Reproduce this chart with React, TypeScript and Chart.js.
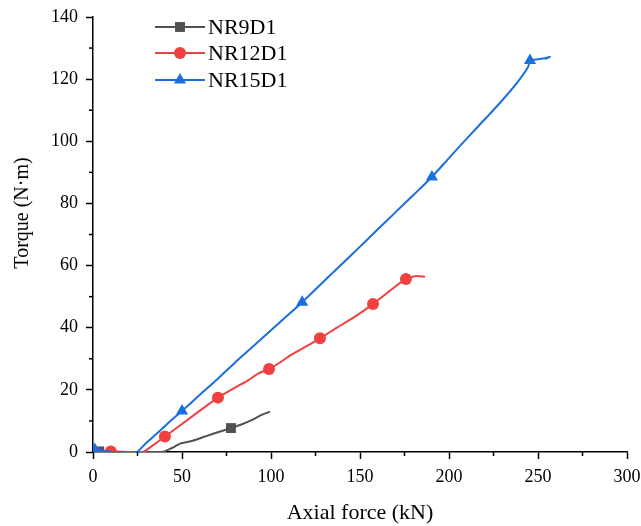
import React, { useEffect, useRef } from 'react';
import { Chart, registerables } from 'chart.js';

Chart.register(...registerables);

const seriesNames = ['NR9D1', 'NR12D1', 'NR15D1'];
const seriesColors = ['#515151', '#F14040', '#1A6FDF'];
const seriesMarkers = ['rect', 'circle', 'triangle'];

const forceNR9D1 = [0, 3.5, 20, 39, 44, 49, 56, 64, 71, 77.5, 84, 90, 95, 99.5];
const torqueNR9D1 = [0, 0.2, 0, 0, 1.2, 2.7, 3.6, 5.2, 6.5, 7.7, 9, 10.5, 12, 13];
const markerIdxNR9D1 = [1, 9];

const forceNR12D1 = [0, 10, 20, 28, 34, 40.4, 50, 60, 70.2, 80, 87, 93, 98.9, 105, 111, 118, 127.5, 137, 147, 157.3, 167, 175.8, 181, 186.5];
const torqueNR12D1 = [0, 0.2, 0, 0, 2.3, 5, 9, 13.3, 17.5, 20.8, 23, 25.3, 26.7, 28.8, 31.2, 33.4, 36.6, 40, 43.5, 47.6, 52, 55.7, 56.6, 56.4];
const markerIdxNR12D1 = [1, 5, 8, 12, 16, 19, 21];

const forceNR15D1 = [0, 1, 10, 24.5, 30, 37, 43, 50, 60, 70, 80, 90, 100, 110, 117.5, 130, 140, 150, 160, 170, 180, 190.4, 200.6, 211.8, 221.3, 228.7, 238.2, 244.4, 245.5, 249, 254.5, 256.7, 254];
const torqueNR15D1 = [0, 0.8, 0, 0, 3, 6.5, 9.7, 13.2, 18.4, 23.5, 28.9, 34, 39.2, 44.3, 48.2, 55.1, 60.6, 66.1, 71.7, 77.2, 82.7, 88.5, 95, 102, 107.8, 112.4, 118.8, 123.9, 126, 126.3, 126.8, 127.2, 126.5];
const markerIdxNR15D1 = [1, 7, 14, 21, 28];

const xTitle = 'Axial force (kN)';
const yTitle = 'Torque (N·m)';
const xMinorTicks = [25, 75, 125, 175, 225, 275];
const yMinorTicks = [10, 30, 50, 70, 90, 110, 130];

const FONT = '"Liberation Serif", "Times New Roman", serif';
const markerRadius = [7, 6, 7];

function toPoints(xs: number[], ys: number[]) {
  return xs.map((x, i) => ({ x, y: ys[i] }));
}

function drawMarker(ctx: CanvasRenderingContext2D, style: string, x: number, y: number, r: number, color: string) {
  ctx.fillStyle = color;
  ctx.beginPath();
  if (style === 'rect') {
    const s = r * Math.SQRT1_2;
    ctx.rect(x - s, y - s, 2 * s, 2 * s);
  } else if (style === 'circle') {
    ctx.arc(x, y, r, 0, Math.PI * 2);
  } else {
    let rad = 0;
    ctx.moveTo(x + Math.sin(rad) * r, y - Math.cos(rad) * r);
    rad += (2 * Math.PI) / 3;
    ctx.lineTo(x + Math.sin(rad) * r, y - Math.cos(rad) * r);
    rad += (2 * Math.PI) / 3;
    ctx.lineTo(x + Math.sin(rad) * r, y - Math.cos(rad) * r);
    ctx.closePath();
  }
  ctx.fill();
}

const overlayPlugin = {
  id: 'overlay',
  afterDraw(chart: any) {
    const { ctx, scales, chartArea } = chart;
    const x = scales.x;
    const y = scales.y;
    ctx.save();
    ctx.strokeStyle = '#000';
    ctx.lineWidth = 1.5;
    for (const v of xMinorTicks) {
      const px = x.getPixelForValue(v);
      ctx.beginPath();
      ctx.moveTo(px, chartArea.bottom);
      ctx.lineTo(px, chartArea.bottom + 4);
      ctx.stroke();
    }
    for (const v of yMinorTicks) {
      const py = y.getPixelForValue(v);
      ctx.beginPath();
      ctx.moveTo(chartArea.left, py);
      ctx.lineTo(chartArea.left - 4, py);
      ctx.stroke();
    }
    // axis titles
    ctx.fillStyle = '#000';
    ctx.textAlign = 'center';
    ctx.textBaseline = 'alphabetic';
    ctx.font = `22px ${FONT}`;
    ctx.fillText(xTitle, (chartArea.left + chartArea.right) / 2, chart.height - 7);
    ctx.save();
    ctx.translate(28, 213);
    ctx.rotate(-Math.PI / 2);
    ctx.font = `20px ${FONT}`;
    ctx.fillText(yTitle, 0, 0);
    ctx.restore();
    // legend
    const lx = chartArea.left + 62;
    const rows = [10, 36, 63];
    ctx.font = `22px ${FONT}`;
    ctx.textAlign = 'left';
    ctx.textBaseline = 'middle';
    seriesNames.forEach((name, i) => {
      const ly = chartArea.top + rows[i];
      ctx.strokeStyle = seriesColors[i];
      ctx.lineWidth = 2;
      ctx.beginPath();
      ctx.moveTo(lx, ly);
      ctx.lineTo(lx + 50, ly);
      ctx.stroke();
      drawMarker(ctx, seriesMarkers[i], lx + 25, ly, markerRadius[i], seriesColors[i]);
      ctx.fillStyle = '#000';
      ctx.fillText(name, lx + 53, ly + 1);
    });
    ctx.restore();
  },
};

export default function App() {
  const ref = useRef<HTMLCanvasElement | null>(null);
  useEffect(() => {
    document.body.style.margin = '0';
    if (!ref.current) return;
    const forces = [forceNR9D1, forceNR12D1, forceNR15D1];
    const torques = [torqueNR9D1, torqueNR12D1, torqueNR15D1];
    const markers = [markerIdxNR9D1, markerIdxNR12D1, markerIdxNR15D1];
    const datasets = seriesNames.map((name, i) => ({
      label: name,
      data: toPoints(forces[i], torques[i]),
      borderColor: seriesColors[i],
      backgroundColor: seriesColors[i],
      borderWidth: 2,
      tension: 0.2,
      pointStyle: seriesMarkers[i],
      pointRadius: (c: any) => (markers[i].includes(c.dataIndex) ? markerRadius[i] : 0),
      pointBorderWidth: 0,
      pointHoverRadius: 0,
      order: 2 - i,
    }));
    const chart = new Chart(ref.current, {
      type: 'line',
      data: { datasets: datasets as any },
      plugins: [overlayPlugin],
      options: {
        animation: false,
        responsive: true,
        maintainAspectRatio: false,
        layout: { padding: { top: 17, right: 14, left: 0, bottom: 0 } },
        plugins: { legend: { display: false }, tooltip: { enabled: false } },
        scales: {
          x: {
            type: 'linear',
            min: 0,
            max: 300,
            afterFit: (s: any) => { s.height = 74; s.paddingRight = 0; s.paddingLeft = 0; },
            grid: { drawOnChartArea: false, drawTicks: true, tickLength: 7, tickWidth: 1.5, tickColor: '#000' },
            border: { display: true, color: '#000', width: 1.5 },
            ticks: { stepSize: 50, color: '#000', padding: 7, font: { family: FONT, size: 18 } },
          },
          y: {
            type: 'linear',
            min: 0,
            max: 140,
            afterFit: (s: any) => { s.width = 93; s.paddingTop = 0; s.paddingBottom = 0; },
            grid: { drawOnChartArea: false, drawTicks: true, tickLength: 7, tickWidth: 1.5, tickColor: '#000' },
            border: { display: true, color: '#000', width: 1.5 },
            ticks: { stepSize: 20, color: '#000', padding: 8, font: { family: FONT, size: 18 } },
          },
        },
      },
    });
    return () => chart.destroy();
  }, []);
  return (
    <div style={{ position: 'relative', width: 641, height: 526 }}>
      <canvas ref={ref} />
    </div>
  );
}
